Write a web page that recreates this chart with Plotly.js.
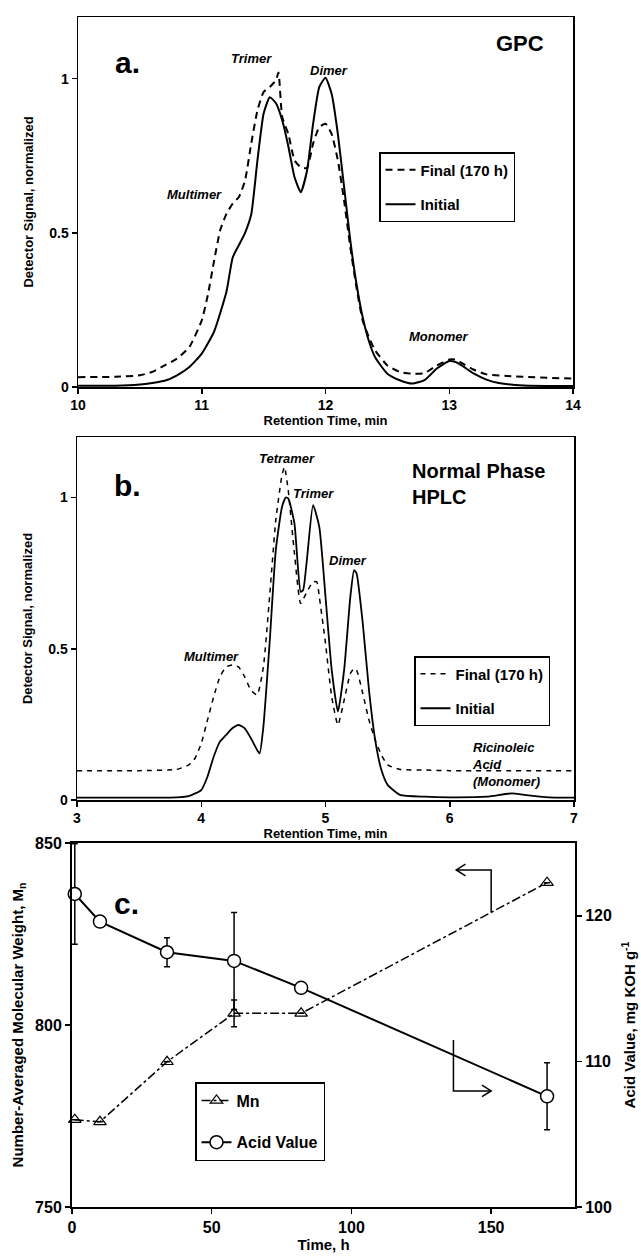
<!DOCTYPE html>
<html>
<head>
<meta charset="utf-8">
<script src="https://cdn.plot.ly/plotly-3.0.1.min.js"></script>
<style>html,body{margin:0;padding:0;background:#fff;}#chart{width:641px;height:1256px;}</style>
</head>
<body>
<div id="chart"></div>
<script>
// ---- Panel a: GPC ----
const gpcInitialTime = [10.0,10.3,10.5,10.6,10.7,10.8,10.9,11.0,11.1,11.2,11.25,11.3,11.35,11.4,11.45,11.5,11.55,11.6,11.65,11.7,11.75,11.8,11.85,11.9,11.95,12.0,12.05,12.1,12.15,12.2,12.25,12.3,12.35,12.4,12.5,12.6,12.7,12.8,12.9,13.0,13.05,13.1,13.2,13.3,13.4,13.6,14.0];
const gpcInitial = [0.004,0.004,0.008,0.013,0.02,0.038,0.065,0.108,0.18,0.31,0.42,0.46,0.5,0.56,0.735,0.887,0.94,0.92,0.865,0.78,0.68,0.632,0.70,0.854,0.973,1.003,0.95,0.82,0.65,0.476,0.335,0.227,0.15,0.097,0.043,0.022,0.011,0.022,0.06,0.084,0.081,0.07,0.043,0.024,0.013,0.005,0.003];
const gpcFinalTime = [10.0,10.3,10.5,10.6,10.7,10.8,10.9,11.0,11.05,11.1,11.15,11.2,11.25,11.3,11.35,11.4,11.45,11.5,11.55,11.6,11.62,11.65,11.7,11.75,11.8,11.85,11.9,11.95,12.0,12.05,12.1,12.15,12.2,12.25,12.3,12.35,12.4,12.5,12.6,12.7,12.8,12.9,13.0,13.05,13.1,13.2,13.3,13.5,14.0];
const gpcFinal = [0.032,0.033,0.038,0.049,0.07,0.092,0.13,0.216,0.30,0.41,0.51,0.562,0.595,0.616,0.67,0.79,0.897,0.957,0.973,0.995,1.02,0.876,0.82,0.735,0.713,0.71,0.79,0.843,0.854,0.82,0.735,0.605,0.454,0.324,0.216,0.162,0.119,0.07,0.049,0.043,0.045,0.07,0.089,0.089,0.078,0.056,0.041,0.035,0.027];

// ---- Panel b: Normal phase HPLC ----
const hplcInitialTime = [3.0,3.5,3.8,3.9,4.0,4.05,4.1,4.15,4.2,4.25,4.3,4.35,4.4,4.45,4.47,4.5,4.55,4.6,4.65,4.68,4.7,4.75,4.8,4.82,4.85,4.9,4.95,5.0,5.05,5.1,5.15,5.2,5.23,5.25,5.3,5.35,5.4,5.45,5.5,5.6,5.8,6.0,6.3,6.5,6.6,6.8,7.0];
const hplcInitial = [0.008,0.008,0.009,0.013,0.033,0.077,0.143,0.193,0.215,0.237,0.248,0.237,0.204,0.165,0.154,0.242,0.518,0.826,0.969,1.0,0.997,0.914,0.688,0.694,0.793,0.975,0.903,0.672,0.43,0.292,0.43,0.672,0.76,0.749,0.584,0.363,0.198,0.099,0.05,0.017,0.011,0.009,0.011,0.022,0.017,0.009,0.008];
const hplcFinalTime = [3.0,3.5,3.8,3.9,3.95,4.0,4.05,4.1,4.15,4.2,4.25,4.3,4.35,4.4,4.45,4.5,4.55,4.6,4.65,4.67,4.7,4.75,4.8,4.85,4.9,4.93,4.95,5.0,5.05,5.1,5.15,5.2,5.23,5.25,5.3,5.35,5.4,5.45,5.5,5.6,5.8,6.0,7.0];
const hplcFinal = [0.097,0.097,0.101,0.116,0.138,0.187,0.264,0.341,0.407,0.44,0.446,0.44,0.407,0.363,0.347,0.44,0.672,0.925,1.074,1.101,1.024,0.815,0.65,0.688,0.721,0.721,0.672,0.518,0.341,0.248,0.33,0.418,0.435,0.43,0.352,0.264,0.198,0.149,0.116,0.101,0.099,0.097,0.097];

// ---- Panel c: Mn and acid value vs time ----
const timeHours = [1,10,34,58,82,170];
const mnValues = [774,773.4,789.9,803.2,803.2,839.1];
const mnErrors = [0,0,0,3.7,0,0];
const acidValues = [121.5,119.6,117.5,116.9,115.05,107.6];
const acidErrors = [3.45,0,1.0,3.33,0,2.3];

const FONT = 'Liberation Sans, Arial, sans-serif';
const bold = (size) => ({family: FONT, size: size, color: '#000', weight: 'bold'});

const traces = [
  {x: gpcFinalTime, y: gpcFinal, name: 'Final (170 h)', mode: 'lines', xaxis: 'x', yaxis: 'y',
   line: {color: '#000', width: 2, dash: '7px,5px', shape: 'spline', smoothing: 0.5}, legend: 'legend', legendgroup: 'a1'},
  {x: gpcInitialTime, y: gpcInitial, name: 'Initial', mode: 'lines', xaxis: 'x', yaxis: 'y',
   line: {color: '#000', width: 2, shape: 'spline', smoothing: 0.5}, legend: 'legend', legendgroup: 'a2'},
  {x: hplcFinalTime, y: hplcFinal, name: 'Final (170 h)', mode: 'lines', xaxis: 'x2', yaxis: 'y2',
   line: {color: '#000', width: 1.5, dash: '5px,5px', shape: 'spline', smoothing: 0.5}, legend: 'legend2', legendgroup: 'b1'},
  {x: hplcInitialTime, y: hplcInitial, name: 'Initial', mode: 'lines', xaxis: 'x2', yaxis: 'y2',
   line: {color: '#000', width: 1.8, shape: 'spline', smoothing: 0.5}, legend: 'legend2', legendgroup: 'b2'},
  {x: timeHours, y: mnValues, name: 'Mn', mode: 'lines+markers', xaxis: 'x3', yaxis: 'y3', cliponaxis: false,
   line: {color: '#000', width: 1.5, dash: 'dashdot'},
   marker: {symbol: 'triangle-up-open', size: 11, color: '#000', line: {width: 1.2, color: '#000'}},
   error_y: {type: 'data', array: mnErrors, visible: true, color: '#000', thickness: 1.5, width: 3},
   legend: 'legend3', legendgroup: 'c1'},
  {x: timeHours, y: acidValues, name: 'Acid Value', mode: 'lines+markers', xaxis: 'x3', yaxis: 'y4', cliponaxis: false,
   line: {color: '#000', width: 2},
   marker: {symbol: 'circle', size: 13, color: '#fff', line: {width: 1.5, color: '#000'}},
   error_y: {type: 'data', array: acidErrors, visible: true, color: '#000', thickness: 1.5, width: 3},
   legend: 'legend3', legendgroup: 'c2'}
];

const axBase = {showgrid: false, zeroline: false, showline: true, linecolor: '#000', linewidth: 1.5,
  ticks: 'outside', ticklen: 5, tickwidth: 1.5, tickcolor: '#000'};

const H = 1256, W = 641;
const py = (px) => 1 - px / H;
const pxx = (px) => px / W;

const legendBox = {xanchor: 'left', yanchor: 'top', bgcolor: '#fff', bordercolor: '#000', borderwidth: 1.5,
  traceorder: 'grouped', itemwidth: 30};

const layout = {
  width: W, height: H,
  margin: {l: 0, r: 0, t: 0, b: 0},
  paper_bgcolor: '#fff', plot_bgcolor: '#fff',
  font: {family: FONT, color: '#000'},
  showlegend: true,
  xaxis: Object.assign({}, axBase, {domain: [pxx(78), pxx(573)], anchor: 'y', range: [10, 14], dtick: 1, mirror: true,
    tickfont: bold(14), title: {text: 'Retention Time, min', font: bold(13), standoff: 2}}),
  yaxis: Object.assign({}, axBase, {domain: [py(387), py(17)], anchor: 'x', range: [0, 1.2], dtick: 0.5, mirror: true,
    tickfont: bold(14), title: {text: 'Detector Signal, normalized', font: bold(13), standoff: 12}}),
  xaxis2: Object.assign({}, axBase, {domain: [pxx(77), pxx(574)], anchor: 'y2', range: [3, 7], dtick: 1, mirror: true,
    tickfont: bold(14), title: {text: 'Retention Time, min', font: bold(13), standoff: 2}}),
  yaxis2: Object.assign({}, axBase, {domain: [py(800), py(437)], anchor: 'x2', range: [0, 1.2], dtick: 0.5, mirror: true,
    tickfont: bold(14), title: {text: 'Detector Signal, normalized', font: bold(13), standoff: 12}}),
  xaxis3: Object.assign({}, axBase, {domain: [pxx(72), pxx(575)], anchor: 'y3', range: [0, 180], dtick: 50, mirror: true, linewidth: 2,
    tickfont: bold(16), title: {text: 'Time, h', font: bold(15), standoff: 4}}),
  yaxis3: Object.assign({}, axBase, {domain: [py(1207), py(843)], anchor: 'x3', range: [750, 850], dtick: 50, linewidth: 2,
    tickfont: bold(16), title: {text: 'Number-Averaged Molecular Weight, M<sub>n</sub>', font: bold(15), standoff: 8}}),
  yaxis4: Object.assign({}, axBase, {overlaying: 'y3', side: 'right', anchor: 'x3', range: [100, 125], tick0: 100, dtick: 10, linewidth: 2,
    tickfont: bold(16), title: {text: 'Acid Value, mg KOH g<sup>-1</sup>', font: bold(15), standoff: 14}}),
  legend: Object.assign({}, legendBox, {x: pxx(379), y: py(152), font: bold(15), tracegroupgap: 12}),
  legend2: Object.assign({}, legendBox, {x: pxx(414), y: py(656), font: bold(15), tracegroupgap: 12}),
  legend3: Object.assign({}, legendBox, {x: pxx(195), y: py(1082), font: bold(16), tracegroupgap: 18}),
  annotations: [
    {text: 'a.', x: 10.40, y: 1.054, xref: 'x', yref: 'y', showarrow: false, font: bold(30)},
    {text: 'GPC', x: 13.57, y: 1.114, xref: 'x', yref: 'y', showarrow: false, font: bold(22)},
    {text: '<i>Trimer</i>', x: 11.40, y: 1.067, xref: 'x', yref: 'y', showarrow: false, font: bold(13)},
    {text: '<i>Dimer</i>', x: 12.03, y: 1.025, xref: 'x', yref: 'y', showarrow: false, font: bold(13)},
    {text: '<i>Multimer</i>', x: 10.94, y: 0.624, xref: 'x', yref: 'y', showarrow: false, font: bold(13)},
    {text: '<i>Monomer</i>', x: 12.91, y: 0.164, xref: 'x', yref: 'y', showarrow: false, font: bold(13)},
    {text: 'b.', x: 3.41, y: 1.04, xref: 'x2', yref: 'y2', showarrow: false, font: bold(30)},
    {text: 'Normal Phase<br>HPLC', x: 5.68, y: 1.046, xref: 'x2', yref: 'y2', xanchor: 'left', align: 'left', showarrow: false, font: bold(20)},
    {text: '<i>Tetramer</i>', x: 4.69, y: 1.129, xref: 'x2', yref: 'y2', showarrow: false, font: bold(13)},
    {text: '<i>Trimer</i>', x: 4.90, y: 1.013, xref: 'x2', yref: 'y2', showarrow: false, font: bold(13)},
    {text: '<i>Dimer</i>', x: 5.18, y: 0.791, xref: 'x2', yref: 'y2', showarrow: false, font: bold(13)},
    {text: '<i>Multimer</i>', x: 4.08, y: 0.474, xref: 'x2', yref: 'y2', showarrow: false, font: bold(13)},
    {text: '<i>Ricinoleic<br>Acid<br>(Monomer)</i>', x: 6.16, y: 0.116, xref: 'x2', yref: 'y2', xanchor: 'left', align: 'left', showarrow: false, font: bold(13)},
    {text: 'c.', x: 19.4, y: 833.3, xref: 'x3', yref: 'y3', showarrow: false, font: bold(30)}
  ],
  shapes: [
    // elbow arrow pointing to the left (Mn) axis
    {type: 'path', xref: 'x3', yref: 'y3', path: 'M 150 831 L 150 842.6 L 137.5 842.6', line: {color: '#000', width: 1.5}},
    {type: 'path', xref: 'x3', yref: 'y3', path: 'M 140.8 844.2 L 137.5 842.6 L 140.8 841.0', line: {color: '#000', width: 1.5}},
    // elbow arrow pointing to the right (acid value) axis
    {type: 'path', xref: 'x3', yref: 'y3', path: 'M 136.5 795.9 L 136.5 781.9 L 150 781.9', line: {color: '#000', width: 1.5}},
    {type: 'path', xref: 'x3', yref: 'y3', path: 'M 146.7 783.5 L 150 781.9 L 146.7 780.3', line: {color: '#000', width: 1.5}}
  ]
};

Plotly.newPlot('chart', traces, layout, {displayModeBar: false, staticPlot: true});
</script>
</body>
</html>
